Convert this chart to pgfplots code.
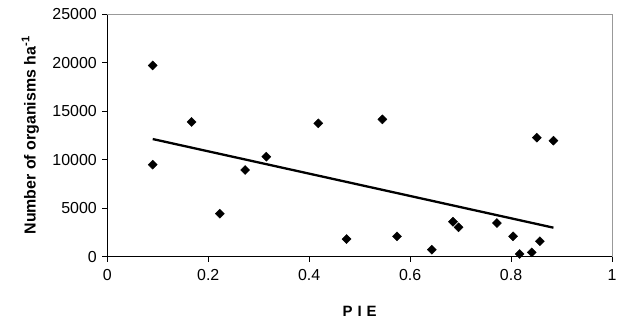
\documentclass[border=0pt]{standalone}
\usepackage{fontspec}
\setmainfont{Liberation Sans}
\usepackage{pgfplots}
\pgfplotsset{compat=1.18}
\begin{document}
\begin{tikzpicture}
\useasboundingbox (-107.3bp,-72.3bp) rectangle (514.7bp,256.7bp);
\begin{axis}[
  scale only axis,
  width=504.7bp, height=242.7bp,
  xmin=0, xmax=1, ymin=0, ymax=25000,
  axis lines=left,
  axis line style={-, line width=0.9bp},
  xtick={0,0.2,0.4,0.6,0.8,1},
  ytick={0,5000,10000,15000,20000,25000},
  xticklabels={0,0.2,0.4,0.6,0.8,1},
  scaled y ticks=false,
  /pgf/number format/assume math mode=true,
  /pgf/number format/set thousands separator={},
  tick align=outside,
  major tick length=5bp,
  tick style={black, line width=0.9bp},
  ticklabel style={font=\fontsize{16}{18}\selectfont},
  xticklabel style={yshift=-4bp},
  yticklabel style={xshift=-2bp},
  xlabel={\textbf{P\,\,I\,\,E}},
  ylabel={\textbf{Number of organisms ha\textsuperscript{-1}}},
  every axis x label/.style={at={(axis description cs:0.5,0)}, yshift=-55bp, anchor=center, font=\fontsize{15}{17}\selectfont},
  every axis y label/.style={at={(axis description cs:0,0.5)}, xshift=-77bp, rotate=90, anchor=center, font=\fontsize{16}{18}\selectfont},
  clip=false,
]
\addplot[only marks, mark=square*, mark size=3.2bp, mark options={rotate=45, fill=black, draw=black}] coordinates {
 (0.090,19700) (0.090,9480) (0.167,13880) (0.223,4430) (0.273,8930)
 (0.315,10300) (0.418,13740) (0.474,1820) (0.545,14150) (0.574,2100)
 (0.643,720) (0.685,3600) (0.696,3030) (0.772,3470) (0.804,2100)
 (0.817,280) (0.841,450) (0.851,12260) (0.857,1590) (0.884,11950)
};
\addplot[black, line width=2.3bp, no marks] coordinates {(0.090,12120) (0.884,2990)};
\draw[gray!80, line width=0.9bp] (rel axis cs:0,1) -- (rel axis cs:1,1) -- (rel axis cs:1,0);
\end{axis}
\end{tikzpicture}
\end{document}
